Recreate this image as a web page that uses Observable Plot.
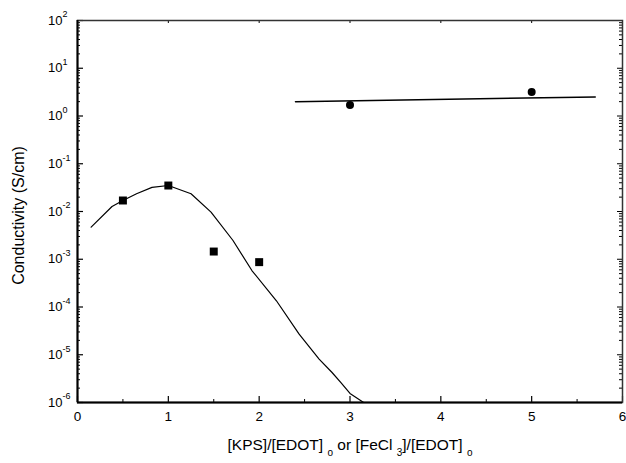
<!DOCTYPE html>
<html>
<head>
<meta charset="utf-8">
<script src="https://cdn.jsdelivr.net/npm/d3@7"></script>
<script src="https://cdn.jsdelivr.net/npm/@observablehq/plot@0.6"></script>
<style>
  html, body { margin: 0; padding: 0; background: #fff; }
  #wrap { width: 626px; font-family: "Liberation Sans", Arial, sans-serif; }
  #xlabel { height: 31px; width: 626px; position: relative; font-size: 15.5px; color: #000; }
  #xlabel span.t { position: absolute; left: 0; width: 700px; text-align: center; top: 4px; white-space: nowrap; }
  #xlabel sub { font-size: 10px; vertical-align: -6px; }
</style>
</head>
<body>
<div id="wrap"></div>
<script>
// KPS measured points
const kpsRatio = [0.5, 1.0, 1.5, 2.0];
const kpsCond = [0.017, 0.035, 0.00145, 0.00087];
// FeCl3 measured points
const fecl3Ratio = [3.0, 5.0];
const fecl3Cond = [1.7, 3.2];
// KPS fitted curve
const kpsFitX = [0.15, 0.38, 0.5, 0.65, 0.82, 1.0, 1.25, 1.47, 1.71, 1.92, 2.19, 2.44, 2.66, 2.8, 2.9, 3.0, 3.15];
const kpsFitY = [0.0047, 0.0127, 0.017, 0.0235, 0.032, 0.035, 0.0235, 0.0097, 0.0025, 0.00058, 0.000135, 0.000027, 0.0000081, 0.0000043, 0.0000026, 0.00000155, 0.000001];
// FeCl3 fitted line
const fecl3FitX = [2.4, 5.7];
const fecl3FitY = [2.0, 2.5];
// Axis ticks
const xMajor = [0, 1, 2, 3, 4, 5, 6];
const xMinor = [0.5, 1.5, 2.5, 3.5, 4.5, 5.5];
const yMajor = [1e-6, 1e-5, 1e-4, 1e-3, 1e-2, 1e-1, 1e0, 1e1, 1e2];

const yMinor = [];
for (let e = -6; e < 2; e++) for (let m = 2; m <= 9; m++) yMinor.push(m * Math.pow(10, e));

const kps = kpsRatio.map((x, i) => ({x, y: kpsCond[i]}));
const fe = fecl3Ratio.map((x, i) => ({x, y: fecl3Cond[i]}));
const kpsFit = kpsFitX.map((x, i) => ({x, y: kpsFitY[i]}));
const feFit = fecl3FitX.map((x, i) => ({x, y: fecl3FitY[i]}));

const W = 626, H = 432;
const mL = 77, mR = 4, mT = 20, mB = 30;
const pw = W - mL - mR, ph = H - mT - mB;
const font = "Liberation Sans, Arial, sans-serif";

const chart = Plot.plot({
  width: W, height: H,
  marginLeft: mL, marginRight: mR, marginTop: mT, marginBottom: mB,
  style: {fontFamily: font, background: "#fff", overflow: "visible"},
  x: {domain: [0, 6], axis: null},
  y: {type: "log", domain: [1e-6, 100], axis: null},
  marks: [
    // ticks, inward
    Plot.ruleX(xMajor, {x: d => d, insetTop: ph - 6, stroke: "#000", strokeWidth: 1.2}),
    Plot.ruleX(xMinor, {x: d => d, insetTop: ph - 3, stroke: "#000", strokeWidth: 1}),
    Plot.ruleX(xMajor, {x: d => d, insetBottom: ph - 3, stroke: "#000", strokeWidth: 1}),
    Plot.ruleY(yMajor, {y: d => d, insetRight: pw - 6, stroke: "#000", strokeWidth: 1.2}),
    Plot.ruleY(yMinor, {y: d => d, insetRight: pw - 3, stroke: "#000", strokeWidth: 1}),
    Plot.ruleY(yMajor, {y: d => d, insetLeft: pw - 5, stroke: "#000", strokeWidth: 1}),
    Plot.ruleY(yMinor, {y: d => d, insetLeft: pw - 3, stroke: "#000", strokeWidth: 1}),
    Plot.frame({stroke: "#333", strokeWidth: 1.5}),
    Plot.ruleX([0], {stroke: "#000", strokeWidth: 2}),
    Plot.ruleY([1e-6], {stroke: "#000", strokeWidth: 2}),
    // tick labels
    Plot.text(xMajor, {x: d => d, frameAnchor: "bottom", dy: 18, text: d => String(d), fontSize: 13.5, fill: "#000"}),
    Plot.text(yMajor, {y: d => d, frameAnchor: "left", dx: -15, textAnchor: "end", text: () => "10", fontSize: 13, fill: "#000"}),
    Plot.text(yMajor, {y: d => d, frameAnchor: "left", dx: -15, dy: -6, textAnchor: "start", text: d => String(Math.round(Math.log10(d))), fontSize: 9, fill: "#000"}),
    // y label
    Plot.text(["Conductivity (S/cm)"], {frameAnchor: "left", dx: -59, dy: 4, rotate: -90, textAnchor: "middle", text: d => d, fontSize: 16, fill: "#000"}),
    // data
    Plot.line(kpsFit, {x: "x", y: "y", stroke: "#000", strokeWidth: 1.2, clip: true}),
    Plot.line(feFit, {x: "x", y: "y", stroke: "#000", strokeWidth: 1.5}),
    Plot.dot(kps, {x: "x", y: "y", symbol: "square", r: 4.5, fill: "#000", stroke: "none"}),
    Plot.dot(fe, {x: "x", y: "y", symbol: "circle", r: 4, fill: "#000", stroke: "none"})
  ]
});

const wrap = document.getElementById("wrap");
wrap.appendChild(chart);
const xl = document.createElement("div");
xl.id = "xlabel";
xl.innerHTML = '<span class="t">[KPS]/[EDOT] <sub>o</sub> or [FeCl <sub>3</sub>]/[EDOT] <sub>o</sub></span>';
wrap.appendChild(xl);
</script>
</body>
</html>
